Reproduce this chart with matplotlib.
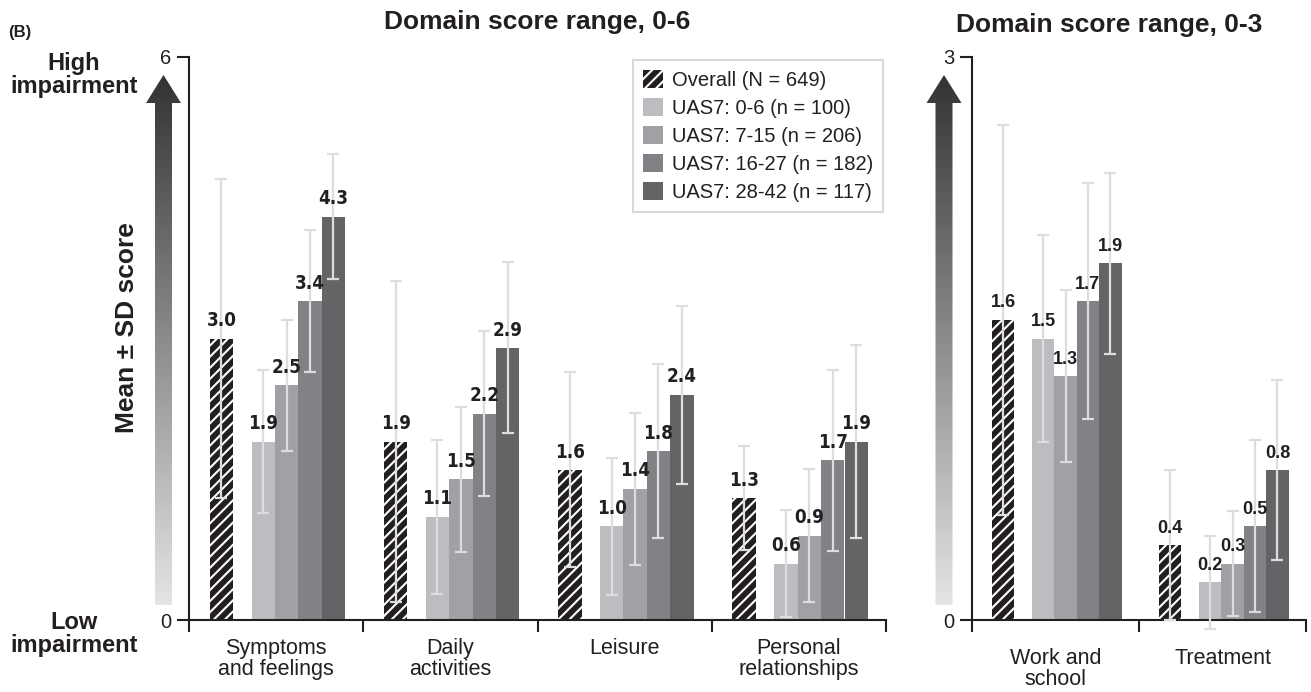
import numpy as np
import matplotlib
matplotlib.use("Agg")
import matplotlib.pyplot as plt
from matplotlib.patches import Polygon
from matplotlib.colors import LinearSegmentedColormap

plt.rcParams['font.family'] = ['Liberation Sans', 'DejaVu Sans']
plt.rcParams['hatch.linewidth'] = 1.5

# domaines (4 sur l'echelle 0-6, 2 sur l'echelle 0-3)
domains = ['Symptoms\nand feelings', 'Daily\nactivities', 'Leisure',
           'Personal\nrelationships', 'Work and\nschool', 'Treatment']
series = ['Overall (N = 649)', 'UAS7: 0-6 (n = 100)', 'UAS7: 7-15 (n = 206)',
          'UAS7: 16-27 (n = 182)', 'UAS7: 28-42 (n = 117)']

overall_mean = [3.0, 1.9, 1.6, 1.3, 1.6, 0.4]
overall_sd = [1.70, 1.71, 1.04, 0.55, 1.04, 0.40]
uas_0_6_mean = [1.9, 1.1, 1.0, 0.6, 1.5, 0.2]
uas_0_6_sd = [0.76, 0.82, 0.73, 0.57, 0.55, 0.25]
uas_7_15_mean = [2.5, 1.5, 1.4, 0.9, 1.3, 0.3]
uas_7_15_sd = [0.70, 0.77, 0.81, 0.71, 0.46, 0.28]
uas_16_27_mean = [3.4, 2.2, 1.8, 1.7, 1.7, 0.5]
uas_16_27_sd = [0.76, 0.88, 0.93, 0.96, 0.63, 0.46]
uas_28_42_mean = [4.3, 2.9, 2.4, 1.9, 1.9, 0.8]
uas_28_42_sd = [0.67, 0.91, 0.95, 1.03, 0.48, 0.48]

means = [overall_mean, uas_0_6_mean, uas_7_15_mean, uas_16_27_mean, uas_28_42_mean]
sds = [overall_sd, uas_0_6_sd, uas_7_15_sd, uas_16_27_sd, uas_28_42_sd]
colors = ['#231f20', '#bcbdc0', '#a0a1a4', '#818285', '#636466']
offsets = [0.186, 0.426, 0.560, 0.694, 0.829]
width = 0.134
ink = '#231f20'

W, H = 1311, 692
fig = plt.figure(figsize=(W / 100, H / 100), dpi=100)
axL = fig.add_axes([189 / W, 1 - 620 / H, 697 / W, 563 / H])
axR = fig.add_axes([972 / W, 1 - 620 / H, 334 / W, 563 / H])


def draw(ax, sl, ymax, lab_font, lab_pad):
    x = np.arange(sl.stop - sl.start)
    handles = []
    for m, s, c, off, name in zip(means, sds, colors, offsets, series):
        vals = m[sl]
        if c == colors[0]:
            b = ax.bar(x + off, vals, width, color=c, edgecolor='white', linewidth=0,
                       hatch='///', label=name, zorder=2)
        else:
            b = ax.bar(x + off, vals, width, color=c, linewidth=0, label=name, zorder=2)
        handles.append(b)
        ax.errorbar(x + off, vals, yerr=s[sl], fmt='none', ecolor='#dcdddf',
                    elinewidth=1.6, capsize=4.5, capthick=1.6, zorder=3, clip_on=False)
        for xx, v in zip(x + off, vals):
            ax.annotate(f'{v:.1f}', (xx, v), xytext=(0, 6), textcoords='offset points',
                        ha='center', va='bottom', fontweight='bold', color=ink,
                        zorder=4, **lab_font)
    ax.set_xlim(0, len(x))
    ax.set_ylim(0, ymax)
    ax.set_xticks(np.arange(len(x) + 1))
    ax.set_xticklabels([])
    ax.set_xticks(x + 0.5, minor=True)
    ax.set_xticklabels(domains[sl], minor=True, fontsize=15.5, color=ink, linespacing=1.0)
    ax.tick_params(axis='x', which='major', direction='out', length=8.5, width=1.5, color=ink)
    ax.tick_params(axis='x', which='minor', length=0, pad=lab_pad)
    ax.set_yticks([0, ymax])
    ax.tick_params(axis='y', direction='out', length=8.5, width=1.5, color=ink,
                   labelsize=14.5, labelcolor=ink, pad=4)
    for sp in ['top', 'right']:
        ax.spines[sp].set_visible(False)
    for sp in ['left', 'bottom']:
        ax.spines[sp].set_linewidth(1.5)
        ax.spines[sp].set_color(ink)
    return handles


narrow = dict(family=['Liberation Sans Narrow', 'DejaVu Sans'], fontstretch='condensed', fontsize=13.5)
regular = dict(family=['Liberation Sans', 'DejaVu Sans'], fontsize=13)
handles = draw(axL, slice(0, 4), 6, narrow, 13)
draw(axR, slice(4, 6), 3, regular, 20)

axL.set_title('Domain score range, 0-6', fontsize=19, fontweight='bold', color=ink, pad=20)
axR.text(0.41, 1.035, 'Domain score range, 0-3', transform=axR.transAxes, ha='center',
         va='bottom', fontsize=19, fontweight='bold', color=ink)

leg = axL.legend(handles=handles, loc='upper right', bbox_to_anchor=(0.996, 0.995),
                 borderaxespad=0, fontsize=14.5, handlelength=1.0, handleheight=1.0,
                 handletextpad=0.45, labelspacing=0.4, fancybox=False,
                 edgecolor='#d0d0d0', borderpad=0.5)
leg.get_frame().set_linewidth(1.5)
for t in leg.get_texts():
    t.set_color(ink)

# fleches en degrade
ov = fig.add_axes([0, 0, 1, 1])
grad = np.linspace(0, 1, 256).reshape(-1, 1)
cmap = LinearSegmentedColormap.from_list('g', ['#333335', '#e4e4e5'])
for cx in [163.5, 944.0]:
    pts = [(cx, 75), (cx + 17.5, 103), (cx + 8.5, 103), (cx + 8.5, 605),
           (cx - 8.5, 605), (cx - 8.5, 103), (cx - 17.5, 103)]
    im = ov.imshow(grad, cmap=cmap, extent=(cx - 18, cx + 18, 605, 75),
                   aspect='auto', origin='upper', interpolation='bilinear')
    poly = Polygon(pts, closed=True, facecolor='none', edgecolor='none')
    ov.add_patch(poly)
    im.set_clip_path(poly)
ov.set_xlim(0, W)
ov.set_ylim(H, 0)
ov.axis('off')

fig.text(8 / W, 1 - 33 / H, '(B)', fontsize=12, fontweight='bold', color=ink, va='center')
fig.text(74 / W, 1 - 75 / H, 'High\nimpairment', fontsize=17, fontweight='bold', color=ink,
         ha='center', va='center', linespacing=1.05)
fig.text(74 / W, 1 - 634 / H, 'Low\nimpairment', fontsize=17, fontweight='bold', color=ink,
         ha='center', va='center', linespacing=1.05)
fig.text(127 / W, 1 - 328 / H, 'Mean ± SD score', fontsize=19, fontweight='bold', color=ink,
         ha='center', va='center', rotation=90)

fig.savefig('out.png', dpi=100)
